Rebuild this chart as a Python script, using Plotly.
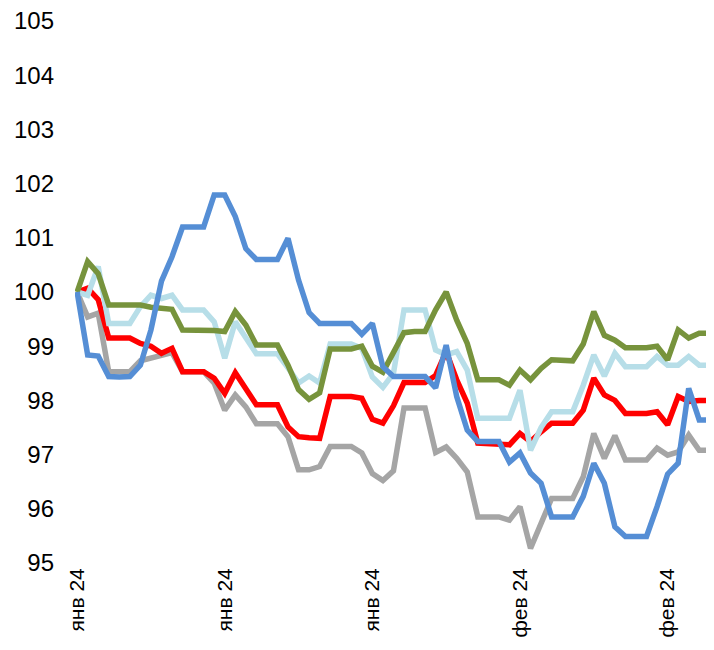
import plotly.graph_objects as go

# x positions (daily index) and tick labels
days = list(range(61))
tick_positions = [0, 14, 28, 42, 56]
tick_labels = ["янв 24", "янв 24", "янв 24", "фев 24", "фев 24"]
y_ticks = [95, 96, 97, 98, 99, 100, 101, 102, 103, 104, 105]

gray = [100.0, 99.54, 99.61, 98.53, 98.53, 98.53, 98.73, 98.77, 98.83, 98.88,
        98.53, 98.53, 98.53, 98.32, 97.82, 98.10, 97.88, 97.57, 97.57, 97.57,
        97.33, 96.72, 96.72, 96.78, 97.15, 97.15, 97.15, 97.03, 96.65, 96.52,
        96.70, 97.86, 97.86, 97.86, 97.04, 97.14, 96.93, 96.68, 95.85, 95.85,
        95.85, 95.79, 96.04, 95.27, 95.75, 96.19, 96.19, 96.19, 96.59, 97.39,
        96.93, 97.35, 96.90, 96.90, 96.90, 97.12, 96.99, 97.05, 97.36, 97.08,
        97.08]

red = [100.0, 100.07, 99.86, 99.15, 99.15, 99.15, 99.05, 99.00, 98.87, 98.96,
       98.53, 98.53, 98.53, 98.41, 98.13, 98.51, 98.23, 97.92, 97.92, 97.92,
       97.51, 97.33, 97.31, 97.30, 98.07, 98.07, 98.07, 98.04, 97.65, 97.58,
       97.90, 98.33, 98.33, 98.33, 98.46, 98.90, 98.38, 97.95, 97.21, 97.20,
       97.19, 97.18, 97.39, 97.24, 97.42, 97.58, 97.58, 97.58, 97.82, 98.41,
       98.10, 98.00, 97.76, 97.76, 97.76, 97.79, 97.55, 98.07, 97.98, 98.00,
       98.00]

light_blue = [100.0, 99.94, 100.47, 99.42, 99.42, 99.42, 99.73, 99.94, 99.88, 99.94,
              99.67, 99.67, 99.67, 99.45, 98.78, 99.45, 99.15, 98.86, 98.86, 98.86,
              98.60, 98.32, 98.45, 98.32, 99.04, 99.04, 99.04, 98.96, 98.43, 98.24,
              98.50, 99.67, 99.67, 99.67, 98.93, 98.84, 98.90, 98.56, 97.67, 97.67,
              97.67, 97.67, 98.19, 97.08, 97.50, 97.79, 97.79, 97.79, 98.28, 98.84,
              98.45, 98.87, 98.62, 98.62, 98.62, 98.81, 98.65, 98.65, 98.81, 98.65,
              98.65]

green = [100.0, 100.56, 100.34, 99.76, 99.76, 99.76, 99.76, 99.72, 99.70, 99.68,
         99.30, 99.30, 99.30, 99.29, 99.27, 99.64, 99.39, 99.02, 99.02, 99.02,
         98.65, 98.20, 98.02, 98.14, 98.95, 98.95, 98.95, 99.00, 98.63, 98.52,
         98.87, 99.25, 99.27, 99.27, 99.67, 100.0, 99.48, 99.05, 98.38, 98.38,
         98.38, 98.28, 98.56, 98.38, 98.59, 98.75, 98.73, 98.73, 99.04, 99.64,
         99.20, 99.11, 98.97, 98.97, 98.97, 99.00, 98.75, 99.30, 99.15, 99.24,
         99.24]

blue = [100.0, 98.84, 98.82, 98.44, 98.43, 98.44, 98.65, 99.30, 100.20, 100.65,
        101.20, 101.20, 101.20, 101.79, 101.79, 101.39, 100.80, 100.60, 100.60, 100.60,
        100.99, 100.22, 99.62, 99.42, 99.42, 99.42, 99.42, 99.22, 99.42, 98.62,
        98.44, 98.44, 98.44, 98.44, 98.23, 99.02, 98.07, 97.45, 97.24, 97.24,
        97.24, 96.86, 97.03, 96.66, 96.47, 95.85, 95.85, 95.85, 96.23, 96.84,
        96.47, 95.67, 95.49, 95.49, 95.49, 96.04, 96.64, 96.84, 98.22, 97.64,
        97.64]

series = [
    ("gray", gray, "#A5A5A5"),
    ("red", red, "#FF0000"),
    ("light_blue", light_blue, "#B7DEE8"),
    ("green", green, "#77933C"),
    ("blue", blue, "#558ED5"),
]

fig = go.Figure()
for name, vals, color in series:
    fig.add_trace(go.Scatter(
        x=days, y=vals, mode="lines", name=name,
        line=dict(color=color, width=5.5),
        showlegend=False, hoverinfo="skip",
    ))

# page body has an 8px default margin, so the figure is sized to 706x642
fig.update_layout(
    width=706, height=642,
    margin=dict(l=67, r=0, t=13, b=87),
    paper_bgcolor="white", plot_bgcolor="white",
    font=dict(family="Liberation Sans, Arial, sans-serif", color="black"),
    xaxis=dict(
        range=[-0.2, 60.4],
        tickmode="array", tickvals=tick_positions, ticktext=tick_labels,
        tickangle=-90, tickfont=dict(size=21),
        showgrid=False, zeroline=False, showline=False, ticks="",
        automargin=False, ticklabeloverflow="allow",
    ),
    yaxis=dict(
        range=[95, 105],
        tickmode="array", tickvals=y_ticks,
        tickfont=dict(size=24),
        showgrid=False, zeroline=False, showline=False, ticks="",
        ticklabelstandoff=20, automargin=False, ticklabeloverflow="allow",
    ),
)

fig.write_html("out.html")
